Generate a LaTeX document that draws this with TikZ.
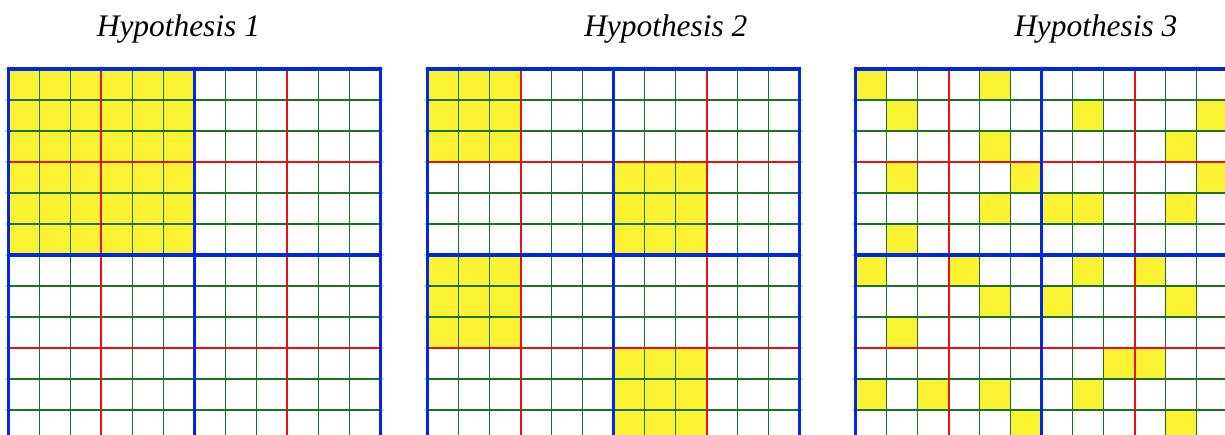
\documentclass[tikz,border=0pt]{standalone}
\usepackage{fontspec}
\setmainfont{Liberation Serif}
\definecolor{cyel}{RGB}{251,242,50}
\definecolor{cgreen}{RGB}{25,115,35}
\definecolor{cred}{RGB}{235,15,15}
\definecolor{cblue}{RGB}{0,40,220}
\tikzset{
  ticksty/.style={draw=black!15, line width=1.2pt},
  thinline/.style={draw=cgreen, line width=1.2pt},
  redline/.style={draw=cred, line width=2.2pt},
  blueline/.style={draw=cblue, line width=3.2pt, line cap=square},
  cellfill/.style={fill=cyel},
  title/.style={anchor=base, font=\fontsize{31.4}{36}\selectfont\itshape, inner sep=0pt}
}
\newcommand\gridlines{%
  \foreach \i in {0,...,12}{
    \draw[ticksty] (\i*31,-3.5) -- (\i*31,375.5);
    \draw[ticksty] (-3.5,\i*31) -- (375.5,\i*31);
  }
  \foreach \i in {1,2,4,5,7,8,10,11}{
    \draw[thinline] (\i*31,0) -- (\i*31,372);
    \draw[thinline] (0,\i*31) -- (372,\i*31);
  }
  \foreach \i in {3,9}{
    \draw[redline] (\i*31,0) -- (\i*31,372);
    \draw[redline] (0,\i*31) -- (372,\i*31);
  }
  \draw[blueline] (0,0) rectangle (372,372);
  \draw[blueline] (186,0) -- (186,372);
  \draw[blueline] (0,186) -- (372,186);
}
\begin{document}
\begin{tikzpicture}[x=1pt,y=-1pt]
\useasboundingbox (0,0) rectangle (1225,434);
\clip (0,0) rectangle (1225,434);
\node[title] (t1) at (178.4,36) {Hypothesis 1};
\node[title] (t2) at (665.8,36) {Hypothesis 2};
\node[title] (t3) at (1095.8,36) {Hypothesis 3};
% grid 1
\begin{scope}[shift={(8.3,69)}]
  \fill[cellfill] (0,0) rectangle (186,186);
  \gridlines
\end{scope}
% grid 2
\begin{scope}[shift={(427.6,69)}]
  \fill[cellfill] (0,0) rectangle (93,93);
  \fill[cellfill] (186,93) rectangle (279,186);
  \fill[cellfill] (0,186) rectangle (93,279);
  \fill[cellfill] (186,279) rectangle (279,372);
  \gridlines
\end{scope}
% grid 3
\begin{scope}[shift={(855.6,69)}]
  \foreach \r/\c in {0/0,0/4,1/1,1/7,1/11,2/4,2/10,3/1,3/5,3/11,4/4,4/6,4/7,4/10,5/1,6/0,6/3,6/7,6/9,7/4,7/6,7/10,8/1,9/8,9/9,10/0,10/2,10/4,10/7,11/5,11/10}
    \fill[cellfill] (\c*31,\r*31) rectangle ++(31,31);
  \gridlines
\end{scope}
\end{tikzpicture}
\end{document}
